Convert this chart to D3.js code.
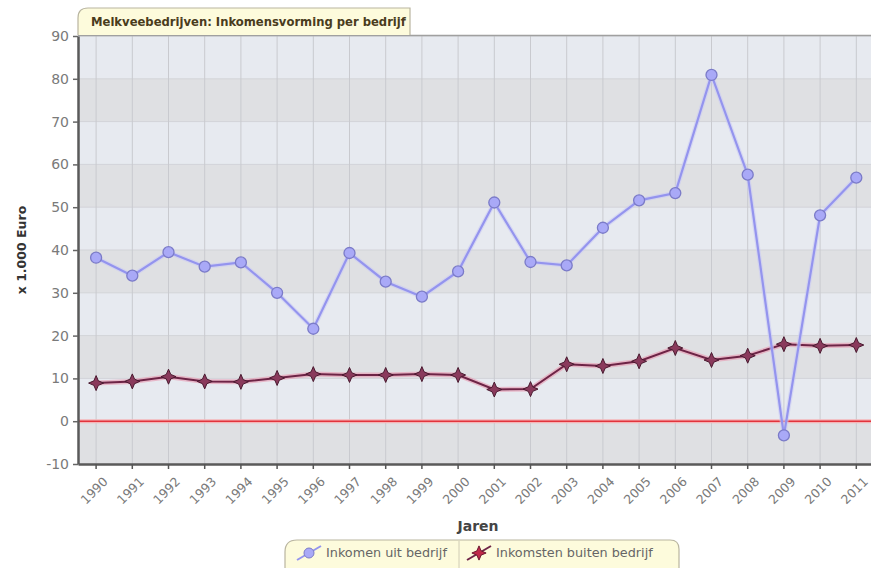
<!DOCTYPE html>
<html lang="nl">
<head>
<meta charset="UTF-8">
<title>Melkveebedrijven</title>
<style>
  body { margin: 0; background: #fff; }
  svg text { font-family: "DejaVu Sans", Verdana, sans-serif; }
</style>
</head>
<body>
<svg id="chart" width="871" height="568"></svg>
<script src="https://cdn.jsdelivr.net/npm/d3@7/dist/d3.min.js"></script>
<script>
// data
const years = ['1990','1991','1992','1993','1994','1995','1996','1997','1998','1999','2000',
               '2001','2002','2003','2004','2005','2006','2007','2008','2009','2010','2011'];
const inkomenUit = [38.2, 34.0, 39.5, 36.1, 37.1, 30.0, 21.6, 39.3, 32.6, 29.1, 35.0,
                    51.1, 37.2, 36.4, 45.2, 51.6, 53.3, 80.9, 57.6, -3.3, 48.1, 56.9];
const inkomstenBuiten = [8.9, 9.3, 10.4, 9.3, 9.2, 10.1, 11.0, 10.8, 10.8, 11.0, 10.8,
                         7.4, 7.5, 13.3, 12.9, 14.0, 17.1, 14.3, 15.3, 18.0, 17.6, 17.8];
const yTicks = [-10, 0, 10, 20, 30, 40, 50, 60, 70, 80, 90];
const seriesNames = ['Inkomen uit bedrijf', 'Inkomsten buiten bedrijf'];

const svg = d3.select('#chart');
const pLeft = 78, pTop = 36, pBottom = 464, step = 36.2, pRight = 871;

const x = d3.scaleBand().domain(years).range([pLeft, pLeft + step * years.length]).padding(0);
const y = d3.scaleLinear().domain([-10, 90]).range([pBottom, pTop]);
const cx = d => x(d) + x.bandwidth() / 2;

// 4-puntige ster voor de tweede reeks
const star4 = {
  draw(ctx, size) {
    const r = Math.sqrt(size) * 0.75, s = r * 0.3;
    ctx.moveTo(0, -r);
    ctx.lineTo(s, -s); ctx.lineTo(r, 0); ctx.lineTo(s, s);
    ctx.lineTo(0, r); ctx.lineTo(-s, s); ctx.lineTo(-r, 0); ctx.lineTo(-s, -s);
    ctx.closePath();
  }
};

// achtergrond banden
const plot = svg.append('g');
plot.append('defs').append('clipPath').attr('id', 'clip')
  .append('rect').attr('x', pLeft).attr('y', pTop - 8).attr('width', pRight - pLeft).attr('height', pBottom - pTop + 8);

const bands = d3.range(yTicks.length - 1);
plot.selectAll('rect.band').data(bands).enter().append('rect')
  .attr('class', 'band')
  .attr('x', pLeft).attr('width', pRight - pLeft)
  .attr('y', i => y(yTicks[i + 1]))
  .attr('height', i => y(yTicks[i]) - y(yTicks[i + 1]))
  .attr('fill', i => (yTicks.length - 2 - i) % 2 === 0 ? '#e7eaf0' : '#dfe0e3');

// grid
plot.selectAll('line.hgrid').data(yTicks).enter().append('line')
  .attr('x1', pLeft).attr('x2', pRight)
  .attr('y1', d => y(d)).attr('y2', d => y(d))
  .attr('stroke', '#d2d3d8').attr('stroke-width', 1);
plot.selectAll('line.vgrid').data(years).enter().append('line')
  .attr('x1', d => cx(d)).attr('x2', d => cx(d))
  .attr('y1', pTop).attr('y2', pBottom)
  .attr('stroke', '#c9cacf').attr('stroke-width', 1);

// bovenrand
svg.append('line').attr('x1', pLeft).attr('x2', pRight).attr('y1', pTop - 0.5).attr('y2', pTop - 0.5)
  .attr('stroke', '#a0a0a0').attr('stroke-width', 1.5);

// nul lijn
svg.append('line').attr('x1', pLeft).attr('x2', pRight).attr('y1', y(0)).attr('y2', y(0))
  .attr('stroke', '#f5b5b8').attr('stroke-width', 4);
svg.append('line').attr('x1', pLeft).attr('x2', pRight).attr('y1', y(0)).attr('y2', y(0))
  .attr('stroke', '#e2343c').attr('stroke-width', 1.5);

// assen
const yAxis = svg.append('g').attr('transform', `translate(${pLeft},0)`)
  .call(d3.axisLeft(y).tickValues(yTicks).tickFormat(d => String(d))
    .tickSize(5).tickSizeOuter(0).tickPadding(4));
yAxis.select('.domain').attr('stroke', '#5a5a5a').attr('stroke-width', 2.5);
yAxis.selectAll('.tick line').attr('stroke', '#666').attr('stroke-width', 1.5);
yAxis.selectAll('.tick text').attr('fill', '#7a7a7a').attr('font-size', 14);

const xAxis = svg.append('g').attr('transform', `translate(0,${pBottom})`)
  .call(d3.axisBottom(x).tickSize(5).tickSizeOuter(0).tickPadding(4));
xAxis.select('.domain').attr('stroke', '#5a5a5a').attr('stroke-width', 2.5);
xAxis.selectAll('.tick line').attr('stroke', '#555').attr('stroke-width', 1.5);
xAxis.selectAll('.tick text').attr('fill', '#7a7a7a').attr('font-size', 12.5)
  .attr('text-anchor', 'end').attr('dy', '0.35em')
  .attr('transform', 'translate(3,9) rotate(-45)');

// lijnen
const g = svg.append('g').attr('clip-path', 'url(#clip)');
const line = d3.line().x((d, i) => cx(years[i])).y(d => y(d));

g.append('path').datum(inkomstenBuiten).attr('d', line)
  .attr('fill', 'none').attr('stroke', '#e7a3b8').attr('stroke-width', 5).attr('opacity', 0.7);
g.append('path').datum(inkomstenBuiten).attr('d', line)
  .attr('fill', 'none').attr('stroke', '#6e2446').attr('stroke-width', 2);

g.append('path').datum(inkomenUit).attr('d', line)
  .attr('fill', 'none').attr('stroke', '#c9c9f5').attr('stroke-width', 4.5).attr('opacity', 0.6);
g.append('path').datum(inkomenUit).attr('d', line)
  .attr('fill', 'none').attr('stroke', '#9494ee').attr('stroke-width', 2.2);

svg.selectAll('path.star').data(inkomstenBuiten).enter().append('path')
  .attr('class', 'star')
  .attr('transform', (d, i) => `translate(${cx(years[i])},${y(d)})`)
  .attr('d', d3.symbol().type(star4).size(100))
  .attr('fill', '#8a3a5c').attr('stroke', '#4a1a30').attr('stroke-width', 1);

svg.selectAll('circle.pt').data(inkomenUit).enter().append('circle')
  .attr('class', 'pt')
  .attr('cx', (d, i) => cx(years[i])).attr('cy', d => y(d)).attr('r', 5.5)
  .attr('fill', '#a9a9f7').attr('stroke', '#7b7bc8').attr('stroke-width', 1.3);

// titel tab
svg.append('path')
  .attr('d', `M${pLeft},${pTop - 1} L${pLeft},18 Q${pLeft},8 ${pLeft + 10},8 L410,8 L410,${pTop - 1}`)
  .attr('fill', '#fdfbdc').attr('stroke', '#b9b5a0').attr('stroke-width', 1.2);
svg.append('text').attr('x', 91).attr('y', 26)
  .attr('font-size', 11.6).attr('font-weight', 'bold').attr('fill', '#4a3c1c')
  .text('Melkveebedrijven: Inkomensvorming per bedrijf');

// as titels
svg.append('text')
  .attr('transform', `translate(22,${(pTop + pBottom) / 2}) rotate(-90)`)
  .attr('text-anchor', 'middle').attr('dy', '0.35em')
  .attr('font-size', 12.5).attr('font-weight', 'bold').attr('fill', '#333')
  .text('x 1.000 Euro');
svg.append('text').attr('x', 478).attr('y', 531)
  .attr('text-anchor', 'middle')
  .attr('font-size', 14).attr('font-weight', 'bold').attr('fill', '#444')
  .text('Jaren');

// legenda
const lg = svg.append('g');
lg.append('path')
  .attr('d', 'M285,570 L285,552 Q285,540 297,540 L670,540 Q679,540 679,549 L679,570')
  .attr('fill', '#fdfbdc').attr('stroke', '#b9b5a0').attr('stroke-width', 1.2);
lg.append('line').attr('x1', 459).attr('x2', 459).attr('y1', 541).attr('y2', 568)
  .attr('stroke', '#d0ccb5');

const legendX = [297, 467];
seriesNames.forEach((name, i) => {
  const x0 = legendX[i];
  const col = i === 0 ? '#9494ee' : '#6e2446';
  lg.append('line').attr('x1', x0).attr('y1', 560).attr('x2', x0 + 24).attr('y2', 546)
    .attr('stroke', col).attr('stroke-width', 2);
  if (i === 0) {
    lg.append('circle').attr('cx', x0 + 12).attr('cy', 553).attr('r', 5)
      .attr('fill', '#a9a9f7').attr('stroke', '#7b7bc8');
  } else {
    lg.append('path').attr('transform', `translate(${x0 + 12},553)`)
      .attr('d', d3.symbol().type(star4).size(90))
      .attr('fill', '#c02a4a').attr('stroke', '#6e1a30');
  }
  lg.append('text').attr('x', x0 + 29).attr('y', 553).attr('dy', '0.35em')
    .attr('font-size', 12.8).attr('fill', '#666').text(name);
});
</script>
</body>
</html>
